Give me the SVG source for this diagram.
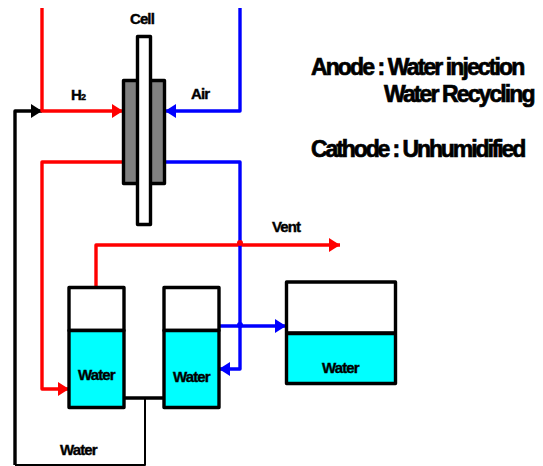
<svg xmlns="http://www.w3.org/2000/svg" width="543" height="466" viewBox="0 0 543 466">
<defs>
<marker id="ar" markerUnits="userSpaceOnUse" markerWidth="11" markerHeight="14" refX="11" refY="7" orient="auto"><path d="M0 0L11 7L0 14Z" fill="#f00"/></marker>
<marker id="ab" markerUnits="userSpaceOnUse" markerWidth="11" markerHeight="14" refX="11" refY="7" orient="auto"><path d="M0 0L11 7L0 14Z" fill="#00f"/></marker>
<marker id="ak" markerUnits="userSpaceOnUse" markerWidth="11" markerHeight="14" refX="11" refY="7" orient="auto"><path d="M0 0L11 7L0 14Z" fill="#000"/></marker>
</defs>
<style>
text{font-family:"Liberation Sans",Arial,sans-serif;font-weight:bold;fill:#000;stroke:#000;stroke-width:.4}
.s{font-size:15px;letter-spacing:-.9px}
.b{font-size:23px;letter-spacing:-1.9px;stroke-width:.7}
.r,.u,.k,.n{fill:none;stroke-width:3.4;stroke-linejoin:round}
.r{stroke:#f00}.u{stroke:#00f}.k{stroke:#000}.n{stroke:#000;stroke-width:2}
.t{stroke:#000;stroke-width:3.4;stroke-linejoin:round}
</style>
<g id="connectors">
<path class="k" d="M15 465V111H42" marker-end="url(#ak)"/>
<path class="n" d="M15 465H145V398"/>
<path class="k" d="M124 398H164"/>
<path class="r" d="M42 8V111H123" marker-end="url(#ar)"/>
<path class="r" d="M124 162H42V389H69" marker-end="url(#ar)"/>
<path class="r" d="M96 287V245H340" marker-end="url(#ar)"/>
<path class="u" d="M240 8V111H165" marker-end="url(#ab)"/>
<path class="u" d="M163 162H240V369H219" marker-end="url(#ab)"/>
<path class="u" d="M218 326H286" marker-end="url(#ab)"/>
<circle cx="240" cy="243" r="3" fill="#f00"/>
<circle cx="240" cy="325" r="3" fill="#00f"/>
</g>
<g id="cell">
<rect class="t" x="123.500" y="80.500" width="41" height="103" fill="#808080"/>
<rect class="t" x="137.500" y="36.500" width="13" height="188" fill="#fff"/>
<text class="s" x="130" y="24">Cell</text>
</g>
<g id="tank1">
<rect class="t" x="69" y="287.500" width="55" height="43" fill="#fff"/>
<rect class="t" x="69" y="330.500" width="55" height="77" fill="#0ff"/>
<text class="s" x="78" y="380">Water</text>
</g>
<g id="tank2">
<rect class="t" x="164" y="287.500" width="55" height="43" fill="#fff"/>
<rect class="t" x="164" y="330.500" width="55" height="77" fill="#0ff"/>
<text class="s" x="173" y="382">Water</text>
</g>
<g id="tank3">
<rect class="t" x="286.500" y="282" width="109" height="51" fill="#fff"/>
<rect class="t" x="286.500" y="333.500" width="109" height="50" fill="#0ff"/>
<text class="s" x="322" y="373">Water</text>
</g>
<g id="labels">
<text class="s" x="71" y="100">H<tspan font-size="9">2</tspan></text>
<text class="s" x="191" y="99">Air</text>
<text class="s" x="272" y="232">Vent</text>
<text class="s" x="60" y="455">Water</text>
<text class="b" x="311" y="75">Anode : Water injection</text>
<text class="b" x="384" y="102">Water Recycling</text>
<text class="b" x="311" y="157" style="letter-spacing:-2.1px">Cathode : Unhumidified</text>
</g>
</svg>
